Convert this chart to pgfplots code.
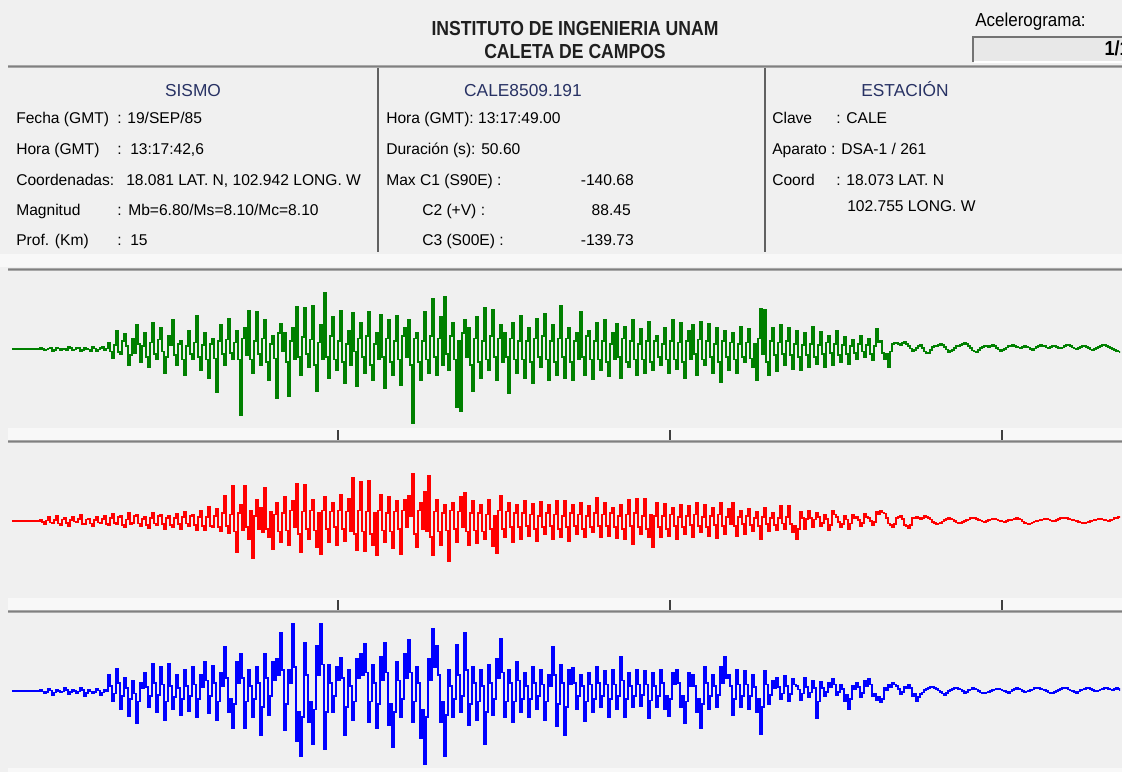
\documentclass[border=0pt]{standalone}
\usepackage{pgfplots}
\pgfplotsset{compat=1.18}
\usepackage{pgfplotstable}
\usepackage{fontspec}
\setmainfont{Liberation Sans}
\definecolor{bg}{HTML}{F0F0F0}
\definecolor{strip}{HTML}{F8F8F8}
\definecolor{sepA}{HTML}{A8A8A8}
\definecolor{sepB}{HTML}{808080}
\definecolor{head}{RGB}{40,50,100}
\definecolor{tgreen}{RGB}{0,128,0}
\definecolor{tred}{RGB}{255,0,0}
\definecolor{tblue}{RGB}{0,0,255}
\newcommand\bodyf{\fontsize{11.7pt}{14pt}\selectfont}
\newcommand\headf{\fontsize{13pt}{15pt}\selectfont}
\newcommand\titlef{\fontsize{13.6pt}{16pt}\selectfont\bfseries}

% C1 (S90E), cm/s^2, one sample every 2 px
\pgfplotstableread[header=false,row sep=\\]{
0\\0\\0\\0\\0\\0\\0\\0\\0\\0\\0\\0\\0\\0\\
2\\0\\-3\\-1\\1\\2\\-4\\-2\\3\\1\\-2\\0\\0\\-3\\4\\2\\-3\\-1\\2\\3\\-5\\-2\\3\\0\\-1\\-4\\4\\1\\-4\\-1\\2\\4\\-3\\1\\
12\\-5\\-18\\8\\35\\-6\\-10\\15\\28\\5\\-30\\-12\\20\\-8\\45\\10\\-25\\6\\30\\-15\\-35\\12\\50\\-10\\-20\\18\\40\\-5\\-45\\-15\\25\\8\\55\\-12\\-30\\10\\15\\-20\\-50\\5\\35\\-10\\-20\\12\\63\\-15\\-40\\8\\30\\-20\\-55\\10\\20\\-18\\-82\\15\\
45\\-10\\-30\\18\\58\\-8\\-20\\12\\35\\-20\\
-125\\20\\
40\\-12\\72\\-20\\-45\\15\\70\\-10\\-30\\20\\55\\-25\\-60\\10\\25\\-18\\-93\\30\\48\\-5\\30\\-25\\-90\\15\\40\\-20\\80\\-15\\-50\\22\\78\\-10\\-35\\18\\82\\-30\\-80\\12\\45\\-20\\106\\-15\\-55\\25\\
60\\-20\\-40\\15\\72\\-25\\-65\\10\\35\\-30\\68\\-5\\-70\\20\\50\\-15\\-45\\25\\70\\-30\\-60\\10\\30\\-20\\65\\-15\\-75\\20\\55\\-25\\-50\\15\\62\\-20\\-68\\25\\
40\\-15\\55\\-30\\-140.68\\20\\30\\-25\\-60\\15\\70\\-20\\-45\\25\\95\\-15\\-50\\20\\60\\-30\\99\\-10\\-40\\25\\50\\-20\\-110\\15\\-118\\30\\55\\-15\\40\\-30\\-80\\20\\60\\-25\\-55\\15\\78\\-20\\-40\\25\\75\\-15\\-60\\20\\45\\-25\\30\\-15\\-84\\20\\50\\-20\\-45\\15\\
62\\-20\\-55\\15\\40\\-25\\-65\\20\\58\\-15\\-35\\25\\66\\-20\\-60\\15\\45\\-25\\-50\\20\\
82\\-15\\-55\\20\\40\\-25\\-60\\15\\30\\-20\\70\\-15\\-50\\25\\35\\-20\\-58\\15\\
50\\-20\\-40\\15\\55\\-25\\-52\\10\\30\\-20\\48\\-15\\-55\\20\\42\\-25\\-35\\15\\56\\-20\\-50\\10\\38\\-20\\-45\\15\\52\\-25\\-40\\15\\
25\\-15\\-30\\10\\40\\-20\\
-45\\15\\55\\-20\\-38\\12\\50\\-25\\-55\\15\\35\\-20\\45\\-10\\-50\\18\\52\\-20\\-30\\15\\48\\-15\\-45\\10\\40\\-25\\-63\\15\\
35\\-15\\-40\\12\\30\\-20\\-45\\10\\42\\-15\\-25\\12\\38\\-18\\-35\\10\\
-60\\20\\76\\-10\\74\\-25\\-50\\15\\40\\-12\\
-42\\12\\45\\-10\\-30\\15\\40\\-12\\-38\\10\\35\\-15\\-40\\8\\30\\-12\\-35\\10\\42\\-15\\-28\\8\\32\\-10\\-35\\12\\25\\-8\\-30\\10\\35\\-12\\
-25\\8\\22\\-10\\-28\\5\\18\\-8\\-20\\10\\25\\-5\\-15\\8\\20\\-10\\-22\\6\\38\\12\\15\\-8\\-20\\-10\\-35\\-5\\
10\\11\\12\\10\\8\\11\\14\\9\\6\\1\\-4\\-2\\2\\5\\8\\2\\-5\\-7\\-8\\-2\\4\\5\\6\\8\\10\\7\\4\\-1\\-6\\-4\\-2\\2\\5\\6\\8\\10\\12\\9\\6\\2\\-3\\-5\\-6\\-2\\2\\4\\6\\5\\4\\6\\8\\5\\2\\-1\\-4\\-2\\0\\3\\5\\6\\8\\6\\4\\3\\2\\4\\6\\4\\3\\0\\-2\\1\\4\\6\\7\\6\\5\\3\\2\\4\\6\\5\\4\\2\\1\\3\\5\\7\\8\\5\\3\\1\\0\\2\\4\\5\\6\\4\\2\\-1\\-3\\0\\2\\4\\5\\7\\8\\6\\4\\2\\0\\-2\\-4\\-5\\-6\\-4\\
}\greendata

% C2 (+V)
\pgfplotstableread[header=false,row sep=\\]{
0\\0\\0\\0\\0\\0\\0\\0\\0\\0\\0\\0\\0\\0\\
3\\-2\\-6\\1\\8\\-3\\-4\\2\\10\\-5\\-8\\3\\5\\-4\\-10\\2\\7\\-1\\-3\\4\\12\\-6\\-6\\3\\4\\-5\\-9\\2\\8\\-3\\-5\\4\\10\\-6\\
-8\\5\\14\\-4\\-6\\8\\9\\-7\\-12\\3\\16\\-6\\-4\\9\\11\\-5\\-10\\4\\7\\-8\\-14\\6\\15\\-5\\-8\\10\\12\\-6\\-16\\5\\9\\-7\\-11\\6\\
13\\-6\\-15\\8\\18\\-5\\-10\\9\\12\\-8\\-17\\7\\
20\\-10\\-18\\8\\26\\-9\\-12\\10\\22\\-12\\-20\\15\\48\\-10\\-24\\12\\
66\\-20\\-59\\15\\30\\-18\\66\\-12\\-35\\20\\-70\\10\\40\\-15\\25\\-22\\63\\-15\\-30\\18\\-53\\12\\35\\-20\\-40\\15\\45\\-18\\-45\\20\\38\\-12\\70\\-25\\-60\\18\\68\\-15\\-35\\20\\40\\-18\\-50\\15\\-63\\20\\45\\-15\\-40\\18\\35\\-12\\
-45\\20\\50\\-15\\-38\\18\\42\\-20\\81\\-25\\-55\\20\\
75\\-20\\-57\\18\\76\\-25\\-45\\15\\-65\\20\\50\\-18\\-40\\15\\45\\-20\\-52\\18\\38\\-15\\-63\\20\\40\\-12\\48\\10\\88.45\\-25\\-50\\20\\35\\-15\\55\\-20\\86\\-30\\-65\\18\\40\\-20\\-45\\15\\30\\-18\\-77\\20\\35\\-15\\-40\\18\\45\\-12\\53\\-20\\-45\\15\\38\\-18\\-42\\15\\30\\-20\\-35\\12\\40\\-15\\-48\\10\\-62\\20\\48\\-15\\-30\\18\\35\\-12\\-40\\15\\
30\\-12\\-35\\15\\38\\-10\\-28\\12\\32\\-15\\-38\\10\\36\\-12\\-25\\15\\30\\-10\\-35\\12\\38\\-15\\-30\\10\\
38\\-12\\-38\\15\\30\\-10\\-25\\12\\35\\-15\\-30\\10\\28\\-12\\-22\\15\\44\\-10\\
-30\\12\\35\\-10\\-28\\15\\25\\-12\\-32\\10\\30\\-15\\-35\\12\\40\\-10\\-44\\15\\42\\-12\\-25\\10\\42\\-15\\-30\\12\\-50\\10\\
35\\-12\\-30\\10\\32\\-15\\-28\\12\\25\\-10\\-35\\8\\30\\-12\\-25\\10\\28\\-8\\-30\\12\\35\\-10\\-22\\8\\30\\-12\\-28\\10\\25\\-8\\-32\\12\\35\\-10\\-25\\8\\22\\-6\\35\\-10\\
-28\\8\\20\\-6\\-25\\10\\22\\-8\\-20\\6\\18\\-10\\-35\\8\\25\\-6\\
-20\\5\\15\\-8\\-18\\6\\28\\-5\\-15\\8\\28\\-6\\
-22\\-10\\-35\\-15\\18\\5\\-15\\4\\20\\6\\-12\\3\\
15\\8\\-10\\-4\\12\\4\\-18\\-8\\20\\12\\8\\-2\\-12\\-6\\10\\3\\-15\\-5\\12\\6\\8\\2\\-10\\-4\\14\\8\\6\\0\\-8\\-2\\18\\12\\20\\16\\14\\6\\-5\\-8\\-12\\-6\\6\\8\\10\\4\\-8\\-10\\-14\\-8\\5\\6\\8\\5\\
4\\6\\9\\7\\6\\3\\-2\\-4\\-6\\-5\\-4\\-1\\2\\4\\5\\4\\3\\0\\-3\\-4\\-5\\-2\\0\\2\\3\\5\\6\\5\\4\\2\\1\\-1\\-2\\0\\2\\3\\4\\4\\3\\1\\0\\-1\\-2\\0\\2\\2\\3\\4\\5\\4\\3\\-1\\-4\\-5\\-6\\-5\\-3\\-1\\0\\1\\2\\3\\4\\4\\3\\1\\-1\\0\\2\\4\\5\\5\\6\\5\\4\\3\\2\\1\\0\\-2\\-3\\-4\\-4\\-3\\-2\\0\\1\\2\\3\\4\\4\\3\\2\\1\\0\\2\\3\\5\\6\\7\\8\\8\\
}\reddata

% C3 (S00E)
\pgfplotstableread[header=false,row sep=\\]{
0\\0\\0\\0\\0\\0\\0\\0\\0\\0\\0\\0\\0\\0\\
2\\-1\\-5\\-2\\4\\1\\-8\\-3\\3\\0\\-3\\-1\\5\\2\\-6\\-2\\2\\0\\-4\\-1\\6\\2\\-10\\-4\\3\\-1\\-5\\-2\\4\\1\\-7\\-3\\3\\0\\
30\\10\\-20\\-5\\42\\15\\-35\\-10\\25\\5\\-48\\-15\\20\\-5\\-62\\-20\\15\\5\\
35\\8\\-30\\-10\\52\\15\\-40\\-8\\45\\12\\-56\\-20\\52\\10\\-35\\-12\\30\\5\\-45\\-15\\40\\10\\
-38\\-10\\45\\12\\-50\\-15\\30\\8\\55\\20\\-42\\-10\\48\\15\\-55\\-20\\35\\10\\83\\25\\-40\\-15\\-70\\-25\\55\\15\\70\\25\\-70\\-20\\40\\10\\
-50\\-15\\45\\15\\-83\\-30\\70\\25\\-45\\-10\\55\\20\\60\\30\\110\\40\\-75\\-25\\40\\15\\128\\45\\-95\\-40\\-123\\-50\\92\\30\\-60\\-20\\-101\\-35\\85\\30\\128\\50\\-110\\-40\\50\\15\\-40\\-10\\45\\20\\62\\25\\-83\\-30\\40\\10\\-55\\-20\\60\\25\\70\\30\\89\\35\\-60\\-20\\50\\15\\-70\\-25\\65\\20\\92\\35\\-65\\-25\\-107\\-40\\55\\20\\-50\\-15\\70\\25\\96\\35\\-60\\-20\\45\\15\\-90\\-35\\-139.73\\-50\\60\\20\\118\\45\\85\\30\\-60\\-20\\-123\\-45\\40\\10\\-50\\-15\\87\\30\\-40\\-10\\110\\40\\-65\\-25\\45\\15\\-55\\-20\\40\\10\\-101\\-40\\50\\15\\-45\\-15\\60\\25\\98\\35\\-50\\-20\\40\\15\\-60\\-20\\56\\20\\-40\\-15\\35\\10\\
-50\\-15\\45\\15\\-35\\-10\\40\\12\\-55\\-20\\30\\10\\83\\30\\-67\\-25\\
50\\15\\-83\\-30\\40\\12\\44\\15\\-35\\-10\\30\\10\\-58\\-20\\35\\12\\-40\\-15\\45\\15\\-30\\-10\\38\\12\\-49\\-15\\40\\12\\-35\\-10\\65\\20\\-50\\-15\\35\\10\\-30\\-10\\40\\12\\-28\\-8\\38\\12\\-52\\-18\\35\\10\\-30\\-10\\40\\15\\-35\\-10\\-47\\-15\\35\\12\\40\\15\\-30\\-10\\-62\\-20\\35\\10\\30\\10\\-40\\-15\\-70\\-25\\45\\15\\-35\\-10\\30\\10\\-30\\-8\\45\\15\\65\\25\\30\\10\\-45\\-15\\40\\12\\-30\\-10\\38\\12\\-35\\-10\\30\\8\\-40\\-15\\-81\\-30\\38\\12\\-25\\-8\\20\\5\\
25\\8\\-15\\-5\\28\\10\\-20\\-6\\22\\12\\10\\3\\-18\\-5\\25\\8\\-12\\-3\\20\\6\\-52\\-20\\
18\\6\\-10\\-2\\15\\8\\22\\12\\-8\\-2\\12\\4\\-20\\-8\\-34\\-15\\10\\4\\15\\8\\-12\\-4\\20\\10\\
22\\12\\-10\\-5\\-18\\-12\\-22\\-15\\5\\2\\12\\8\\16\\12\\10\\4\\-6\\-2\\8\\5\\12\\6\\-10\\-6\\-20\\-12\\
-6\\-3\\2\\4\\6\\7\\8\\6\\4\\1\\-2\\-5\\-8\\-4\\0\\2\\4\\5\\6\\4\\3\\0\\-4\\-2\\2\\3\\5\\4\\3\\0\\-3\\-4\\-5\\-3\\-2\\0\\2\\3\\4\\4\\3\\1\\0\\-2\\-4\\-1\\2\\4\\5\\4\\3\\0\\-2\\-1\\0\\2\\3\\5\\6\\5\\4\\3\\2\\0\\-3\\-4\\-5\\-2\\0\\2\\4\\5\\6\\5\\3\\1\\0\\-2\\-4\\-1\\2\\3\\4\\5\\6\\4\\2\\0\\-1\\1\\3\\4\\5\\5\\4\\3\\2\\4\\6\\4\\2\\3\\
}\bluedata

\pgfplotsset{trace/.style={anchor=south west, width=831pt, height=117pt,
  scale only axis, xmin=0, xmax=554, ymin=-150, ymax=146, hide axis, clip=true}}

\begin{document}
\begin{tikzpicture}
\path[use as bounding box] (0,0) rectangle (841.5pt,-579pt);
\clip (0,0) rectangle (841.5pt,-579pt);
\fill[bg] (0,0) rectangle (841.5pt,-579pt);
\begin{scope}[x=0.75pt,y=-0.75pt]
% light strips
\fill[strip] (0,254) rectangle (1122,267);
\fill[strip] (8,428) rectangle (1122,440);
\fill[strip] (8,598) rectangle (1122,610);
\fill[strip] (8,768) rectangle (1122,772);
% separators
\foreach \yy in {65,268,440,610}{
  \fill[sepA] (8,\yy) rectangle (1122,\yy+3);
  \fill[sepB] (8,\yy+1) rectangle (1122,\yy+2);
}
% column separators
\draw[black!62, line width=1.5pt] (378,68) -- (378,252);
\draw[black!62, line width=1.5pt] (765,68) -- (765,252);
% time ticks
\foreach \xx in {338,670,1002}{
  \draw[black!75, line width=1.5pt] (\xx,430) -- (\xx,440);
  \draw[black!75, line width=1.5pt] (\xx,600) -- (\xx,610);
}
% title
\node[anchor=base, inner sep=0, font=\titlef, text=black!88] at (575,35) {\scalebox{0.97}[1.12]{INSTITUTO DE INGENIERIA UNAM}};
\node[anchor=base, inner sep=0, font=\titlef, text=black!88] at (575,58) {\scalebox{0.97}[1.12]{CALETA DE CAMPOS}};
% Acelerograma box
\node[anchor=base west, inner sep=0, font=\headf] at (975,26) {\scalebox{0.98}[1.08]{Acelerograma:}};
\fill[black!9] (973,36) rectangle (1122,62);
\draw[black!55, line width=1.5pt] (973,62) -- (973,36.5) -- (1122,36.5);
\draw[white, line width=1pt] (974,62) -- (1122,62);
\node[anchor=base east, inner sep=0, font=\titlef] at (1130,55) {\scalebox{1}[1.12]{1/1}};
% headings
\node[anchor=base, inner sep=0, font=\headf, text=head] at (193,96) {SISMO};
\node[anchor=base, inner sep=0, font=\headf, text=head] at (523,96) {CALE8509.191};
\node[anchor=base, inner sep=0, font=\headf, text=head] at (905,96) {ESTACIÓN};
% column 1
\begin{scope}[every node/.style={anchor=base west, inner sep=0, font=\bodyf}]
\node at (16,123) {Fecha (GMT)};
\node at (117,123) {: 19/SEP/85};
\node at (16,154) {Hora (GMT)};
\node at (117,154) {:};
\node at (130,154) {13:17:42,6};
\node at (16,185) {Coordenadas:};
\node at (126,185) {18.081 LAT. N, 102.942 LONG. W};
\node at (16,215) {Magnitud};
\node at (117,215) {:};
\node at (128,215) {Mb=6.80/Ms=8.10/Mc=8.10};
\node at (16,245) {Prof. (Km)};
\node at (117,245) {:};
\node at (130,245) {15};
% column 2
\node at (386,123) {Hora (GMT): 13:17:49.00};
\node at (386,154) {Duración (s): 50.60};
\node at (386,185) {Max C1 (S90E) :};
\node at (422,215) {C2 (+V) :};
\node at (422,245) {C3 (S00E) :};
% column 3
\node at (772,123) {Clave};
\node at (836,123) {: CALE};
\node at (772,154) {Aparato : DSA-1 / 261};
\node at (772,185) {Coord};
\node at (836,185) {: 18.073 LAT. N};
\node at (847,211) {102.755 LONG. W};
\end{scope}
\node[anchor=base east, inner sep=0, font=\bodyf] at (634,185) {-140.68};
\node[anchor=base east, inner sep=0, font=\bodyf] at (631,215) {88.45};
\node[anchor=base east, inner sep=0, font=\bodyf] at (634,245) {-139.73};
\end{scope}

\begin{axis}[trace, at={(9pt,-321pt)}]
\addplot[const plot, tgreen, line width=1.3pt] table[x expr=\coordindex, y index=0] {\greendata};
\end{axis}
\begin{axis}[trace, at={(9pt,-450pt)}]
\addplot[const plot, tred, line width=1.3pt] table[x expr=\coordindex, y index=0] {\reddata};
\end{axis}
\begin{axis}[trace, at={(9pt,-577.5pt)}]
\addplot[const plot, tblue, line width=1.3pt] table[x expr=\coordindex, y index=0] {\bluedata};
\end{axis}
\end{tikzpicture}
\end{document}
